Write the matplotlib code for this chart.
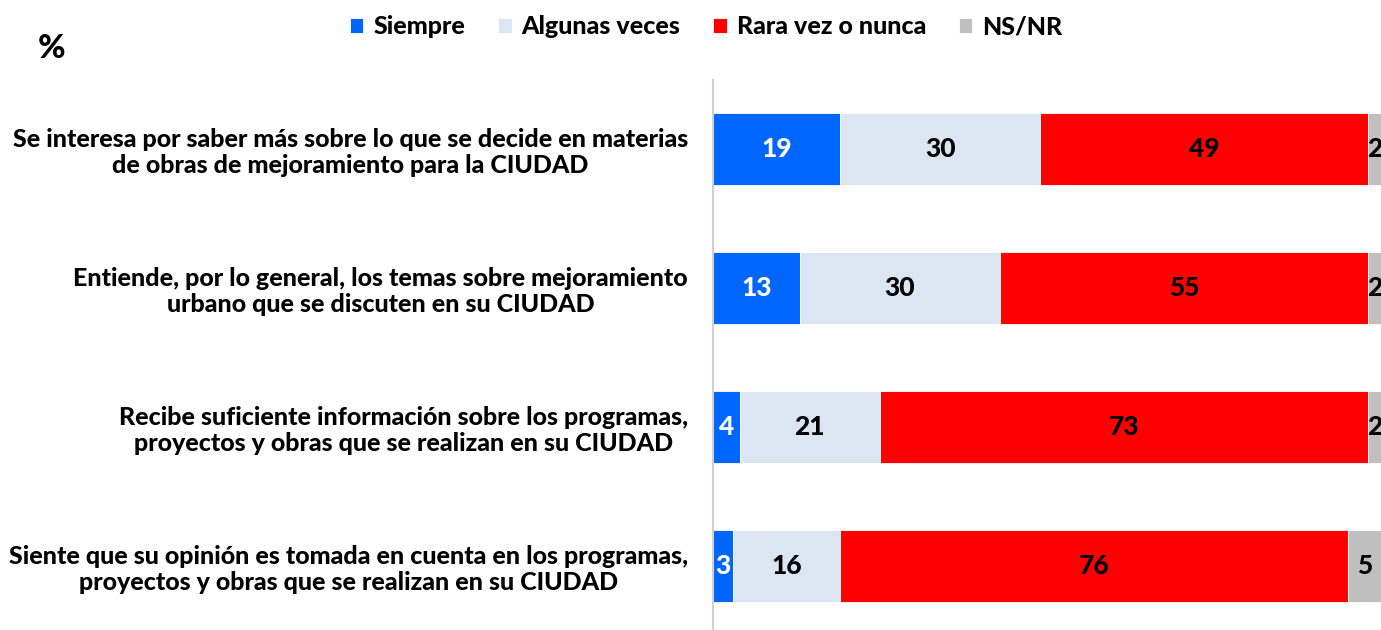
import matplotlib.pyplot as plt
import numpy as np

plt.rcParams['font.family'] = ['Lato', 'DejaVu Sans']

# Data
questions = [
    "Se interesa por saber más sobre lo que se decide en materias\nde obras de mejoramiento para la CIUDAD",
    "Entiende, por lo general, los temas sobre mejoramiento\nurbano que se discuten en su CIUDAD",
    "Recibe suficiente información sobre los programas,\nproyectos y obras que se realizan en su CIUDAD",
    "Siente que su opinión es tomada en cuenta en los programas,\nproyectos y obras que se realizan en su CIUDAD",
]
series_names = ["Siempre", "Algunas veces", "Rara vez o nunca", "NS/NR"]
siempre = [19, 13, 4, 3]
algunas = [30, 30, 21, 16]
rara = [49, 55, 73, 76]
nsnr = [2, 2, 2, 5]

COLORS = ['#0066ff', '#dce6f2', '#ff0000', '#bfbfbf']
TEXT_COLORS = ['white', 'black', 'black', 'black']
W = 'black'

fig = plt.figure(figsize=(13.81, 6.30), dpi=100)
ax = fig.add_axes([713 / 1381, -0.0087, 668 / 1381, 0.8825])

y = np.arange(len(questions))
left = np.zeros(len(questions))
for name, vals, col, tcol in zip(series_names, [siempre, algunas, rara, nsnr], COLORS, TEXT_COLORS):
    vals = np.array(vals, dtype=float)
    ax.barh(y, vals, left=left, height=0.52, color=col, edgecolor='white',
            linewidth=0.6, label=name)
    for yi, (l, v) in enumerate(zip(left, vals)):
        ax.text(l + v / 2, yi, f"{int(v)}", ha='center', va='center',
                fontsize=19, fontweight=W, color=tcol)
    left += vals

ax.set_xlim(0, 100)
ax.set_ylim(len(questions) - 0.5, -0.5)
ax.set_yticks(y)
ax.set_yticklabels(questions, fontsize=18, fontweight=W, ha='right',
                   multialignment='center', linespacing=1.15)
ax.tick_params(axis='y', length=0, pad=18)
ax.set_xticks([])
for s in ['top', 'right', 'bottom']:
    ax.spines[s].set_visible(False)
ax.spines['left'].set_color('#d0d0d0')
ax.spines['left'].set_linewidth(1.5)

fig.text(52 / 1381, 1 - 48 / 630, "%", fontsize=24, fontweight=W,
         ha='center', va='center')

fig.legend(loc='center', bbox_to_anchor=(706 / 1381, 1 - 27 / 630), ncol=4,
           frameon=False, prop={'size': 18, 'weight': W},
           handlelength=0.55, handleheight=0.55, handletextpad=0.4,
           columnspacing=1.3)

fig.savefig('out.png', dpi=100)
